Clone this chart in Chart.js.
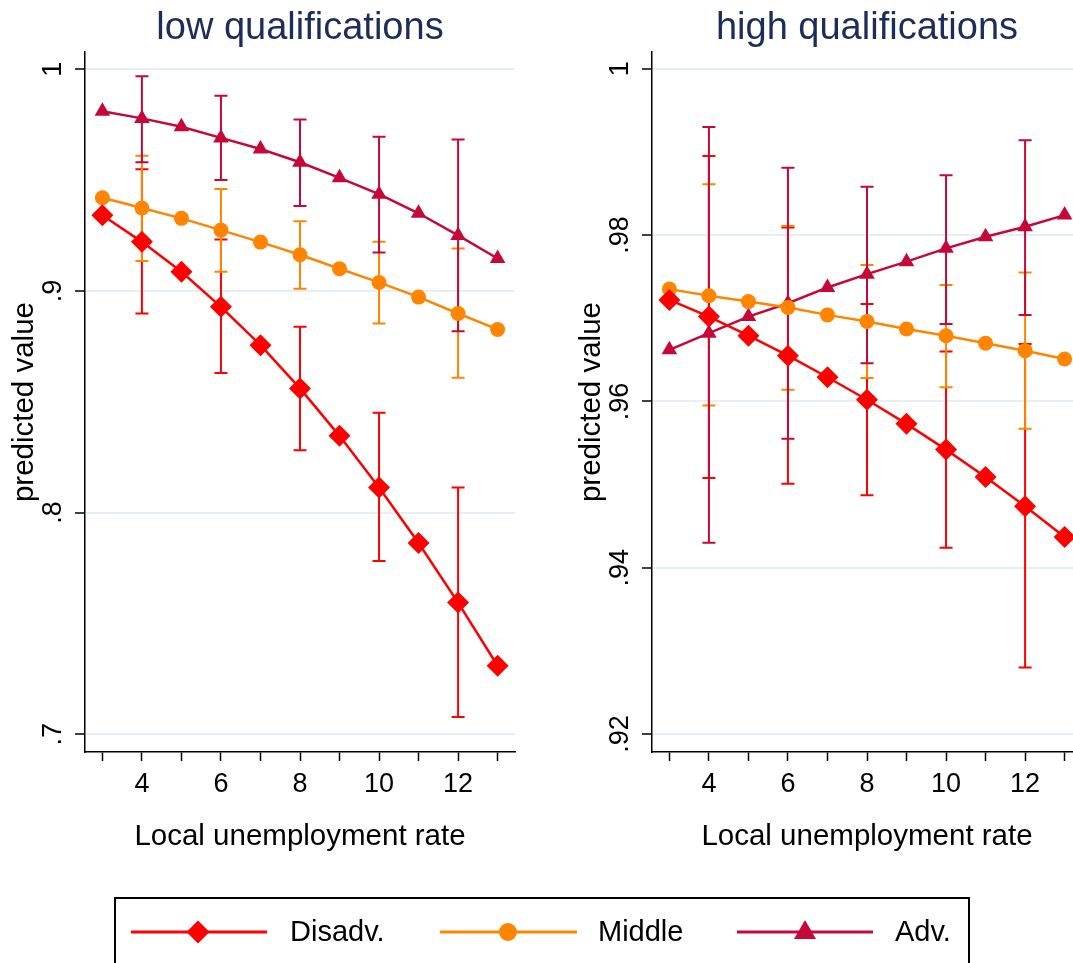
<!DOCTYPE html>
<html>
<head>
<meta charset="utf-8">
<script src="https://cdn.jsdelivr.net/npm/chart.js@4/dist/chart.umd.min.js"></script>
<style>
  html, body { margin: 0; padding: 0; background: #fff; }
  body { width: 1073px; height: 963px; overflow: hidden; position: relative; font-family: "Liberation Sans", Arial, sans-serif; }
  canvas { position: absolute; top: 0; }
  #cLow { left: 0; }
  #cHigh { left: 567px; }
  #legendBox { position: absolute; left: 114px; top: 897px; width: 856px; height: 110px; border: 2px solid #000; box-sizing: border-box; }
  .lg { position: absolute; font-size: 29px; line-height: 29px; color: #000; top: 917px; white-space: nowrap; }
  #legendMarks { position: absolute; left: 0; top: 0; }
</style>
</head>
<body>
<canvas id="cLow" width="582" height="880"></canvas>
<canvas id="cHigh" width="600" height="880"></canvas>
<div id="legendBox"></div>
<svg id="legendMarks" width="1073" height="963"></svg>
<span class="lg" style="left:290px">Disadv.</span>
<span class="lg" style="left:598px">Middle</span>
<span class="lg" style="left:895px">Adv.</span>
<script>
// Local unemployment rate (x) and the points where 95% intervals are shown
const unemp = [3, 4, 5, 6, 7, 8, 9, 10, 11, 12, 13];
const ciUnemp = [4, 6, 8, 10, 12];
const xTickValues = [3, 4, 5, 6, 7, 8, 9, 10, 11, 12, 13];

// Series names and colours
const groups = ['Disadv.', 'Middle', 'Adv.'];
const groupColors = ['#ff0000', '#ff8500', '#c4083a'];
const groupMarkers = ['rectRot', 'circle', 'triangle'];

// Low qualifications: predicted values
const lowDisadv = [0.9341, 0.9221, 0.9086, 0.8928, 0.8755, 0.8560, 0.8346, 0.8113, 0.7863, 0.7594, 0.7309];
const lowMiddle = [0.9420, 0.9374, 0.9327, 0.9274, 0.9220, 0.9163, 0.9100, 0.9038, 0.8972, 0.8898, 0.8826];
const lowAdv    = [0.9810, 0.9778, 0.9740, 0.9690, 0.9640, 0.9580, 0.9510, 0.9436, 0.9350, 0.9250, 0.9146];
// Low qualifications: confidence bounds at ciUnemp
const lowDisadvLo = [0.8898, 0.8630, 0.8281, 0.7781, 0.7078];
const lowDisadvHi = [0.9549, 0.9232, 0.8838, 0.8450, 0.8113];
const lowMiddleLo = [0.9135, 0.9086, 0.9010, 0.8853, 0.8608];
const lowMiddleHi = [0.9610, 0.9460, 0.9314, 0.9221, 0.9191];
const lowAdvLo    = [0.9580, 0.9500, 0.9383, 0.9173, 0.8818];
const lowAdvHi    = [0.9968, 0.9880, 0.9773, 0.9695, 0.9683];

// High qualifications: predicted values
const highDisadv = [0.9722, 0.9702, 0.9679, 0.9655, 0.9629, 0.9602, 0.9573, 0.9542, 0.9509, 0.9474, 0.9437];
const highMiddle = [0.9735, 0.9727, 0.9720, 0.9713, 0.9704, 0.9696, 0.9687, 0.9679, 0.9670, 0.9661, 0.9651];
const highAdv    = [0.9662, 0.9682, 0.9702, 0.9718, 0.9737, 0.9753, 0.9768, 0.9784, 0.9798, 0.9810, 0.9824];
// High qualifications: confidence bounds at ciUnemp
const highDisadvLo = [0.9508, 0.9501, 0.9487, 0.9424, 0.9280];
const highDisadvHi = [0.9895, 0.9809, 0.9717, 0.9660, 0.9669];
const highMiddleLo = [0.9595, 0.9614, 0.9628, 0.9617, 0.9567];
const highMiddleHi = [0.9861, 0.9811, 0.9764, 0.9740, 0.9755];
const highAdvLo    = [0.9430, 0.9555, 0.9646, 0.9693, 0.9704];
const highAdvHi    = [0.9930, 0.9881, 0.9858, 0.9872, 0.9914];

// Y-axis ticks and labels
const lowYTicks = [0.7, 0.8, 0.9, 1];
const lowYLabels = ['.7', '.8', '.9', '1'];
const highYTicks = [0.92, 0.94, 0.96, 0.98, 1];
const highYLabels = ['.92', '.94', '.96', '.98', '1'];

const FONT = '"Liberation Sans", Arial, sans-serif';
const pointSizes = [11, 7.5, 9];

// Vertical capped interval lines, drawn underneath the series
const errorBars = {
  id: 'errorBars',
  beforeDatasetsDraw(chart, args, opts) {
    const {ctx, scales: {x, y}} = chart;
    ctx.save();
    ctx.lineWidth = 2;
    ctx.lineCap = 'butt';
    opts.sets.forEach((s, k) => {
      ctx.strokeStyle = groupColors[k];
      ciUnemp.forEach((u, i) => {
        const px = x.getPixelForValue(u);
        const pLo = y.getPixelForValue(s.lo[i]);
        const pHi = y.getPixelForValue(s.hi[i]);
        ctx.beginPath();
        ctx.moveTo(px, pLo); ctx.lineTo(px, pHi);
        ctx.moveTo(px - 6.5, pLo); ctx.lineTo(px + 6.5, pLo);
        ctx.moveTo(px - 6.5, pHi); ctx.lineTo(px + 6.5, pHi);
        ctx.stroke();
      });
    });
    ctx.restore();
  }
};

// Centre each panel title over its plot region
const titleOverPlot = {
  id: 'titleOverPlot',
  afterLayout(chart) {
    if (chart.titleBlock) {
      chart.titleBlock.left = chart.chartArea.left;
      chart.titleBlock.right = chart.chartArea.right;
    }
  }
};

function makePanel(id, title, series, bars, yMin, yMax, yTicks, yLabels, yPad, rightPad) {
  return new Chart(document.getElementById(id), {
    type: 'line',
    data: {
      datasets: series.map((vals, k) => ({
        label: groups[k],
        data: unemp.map((u, i) => ({x: u, y: vals[i]})),
        borderColor: groupColors[k],
        backgroundColor: groupColors[k],
        pointBackgroundColor: groupColors[k],
        pointBorderWidth: 0,
        pointStyle: groupMarkers[k],
        pointRadius: pointSizes[k],
        borderWidth: 2.5,
        tension: 0
      }))
    },
    options: {
      responsive: false,
      animation: false,
      events: [],
      layout: { padding: { left: 0, right: rightPad, top: 0, bottom: 0 } },
      plugins: {
        legend: { display: false },
        tooltip: { enabled: false },
        title: {
          display: true,
          text: title,
          color: '#1d2d5b',
          font: { family: FONT, size: 38, weight: 'normal', lineHeight: 1.2 },
          padding: { top: 5.5, bottom: 1 }
        },
        errorBars: { sets: bars }
      },
      scales: {
        x: {
          type: 'linear',
          min: 2.56, max: 13.44,
          afterBuildTicks: s => { s.ticks = xTickValues.map(v => ({value: v})); },
          afterFit: s => { s.height = 128; },
          ticks: {
            color: '#000',
            font: { family: FONT, size: 27, lineHeight: 1.2 },
            padding: 7,
            maxRotation: 0,
            autoSkip: false,
            callback: v => (v % 2 === 0 ? String(v) : '')
          },
          grid: { drawOnChartArea: false, drawTicks: true, tickLength: 9, tickColor: '#000', tickWidth: 1.5 },
          border: { display: true, color: '#000', width: 1.5 },
          title: {
            display: true,
            text: 'Local unemployment rate',
            color: '#000',
            font: { family: FONT, size: 29.5, lineHeight: 1.2 },
            padding: { top: 0, bottom: 25.3 }
          }
        },
        y: {
          type: 'linear',
          min: yMin, max: yMax,
          afterBuildTicks: s => { s.ticks = yTicks.map(v => ({value: v})); },
          afterFit: s => { s.width = 85; },
          ticks: {
            color: '#000',
            font: { family: FONT, size: 27, lineHeight: 1.2 },
            minRotation: 90, maxRotation: 90,
            crossAlign: 'center',
            padding: yPad,
            autoSkip: false,
            callback: (v, i) => yLabels[i]
          },
          grid: { color: '#e7eff2', lineWidth: 2, drawTicks: true, tickLength: 10, tickColor: '#000', tickWidth: 1.5 },
          border: { display: true, color: '#000', width: 1.5 },
          title: {
            display: true,
            text: 'predicted value',
            color: '#000',
            font: { family: FONT, size: 29.5, lineHeight: 1.2 },
            padding: { top: 7.3, bottom: 0 }
          }
        }
      }
    },
    plugins: [errorBars, titleOverPlot]
  });
}

makePanel('cLow', 'low qualifications',
  [lowDisadv, lowMiddle, lowAdv],
  [{lo: lowDisadvLo, hi: lowDisadvHi}, {lo: lowMiddleLo, hi: lowMiddleHi}, {lo: lowAdvLo, hi: lowAdvHi}],
  0.692, 1.0077, lowYTicks, lowYLabels, 9.75, 67);

makePanel('cHigh', 'high qualifications',
  [highDisadv, highMiddle, highAdv],
  [{lo: highDisadvLo, hi: highDisadvHi}, {lo: highMiddleLo, hi: highMiddleHi}, {lo: highAdvLo, hi: highAdvHi}],
  0.91784, 1.002, highYTicks, highYLabels, 2.25, 85);

// Legend key symbols: a line sample with the series marker in the middle
const legendKeys = [
  {x1: 131, x2: 267, cx: 198},
  {x1: 440, x2: 577, cx: 508},
  {x1: 737, x2: 873, cx: 805}
];
const svgNS = 'http://www.w3.org/2000/svg';
const svg = document.getElementById('legendMarks');
const ky = 932;
legendKeys.forEach((k, i) => {
  const line = document.createElementNS(svgNS, 'line');
  line.setAttribute('x1', k.x1); line.setAttribute('x2', k.x2);
  line.setAttribute('y1', ky); line.setAttribute('y2', ky);
  line.setAttribute('stroke', groupColors[i]); line.setAttribute('stroke-width', 3);
  svg.appendChild(line);
  let m;
  if (groupMarkers[i] === 'rectRot') {
    m = document.createElementNS(svgNS, 'polygon');
    const r = 11.5;
    m.setAttribute('points', `${k.cx - r},${ky} ${k.cx},${ky - r} ${k.cx + r},${ky} ${k.cx},${ky + r}`);
  } else if (groupMarkers[i] === 'circle') {
    m = document.createElementNS(svgNS, 'circle');
    m.setAttribute('cx', k.cx); m.setAttribute('cy', ky); m.setAttribute('r', 9);
  } else {
    m = document.createElementNS(svgNS, 'polygon');
    const w = 11, top = ky - 12, bot = ky + 7;
    m.setAttribute('points', `${k.cx},${top} ${k.cx + w},${bot} ${k.cx - w},${bot}`);
  }
  m.setAttribute('fill', groupColors[i]);
  svg.appendChild(m);
});
</script>
</body>
</html>
